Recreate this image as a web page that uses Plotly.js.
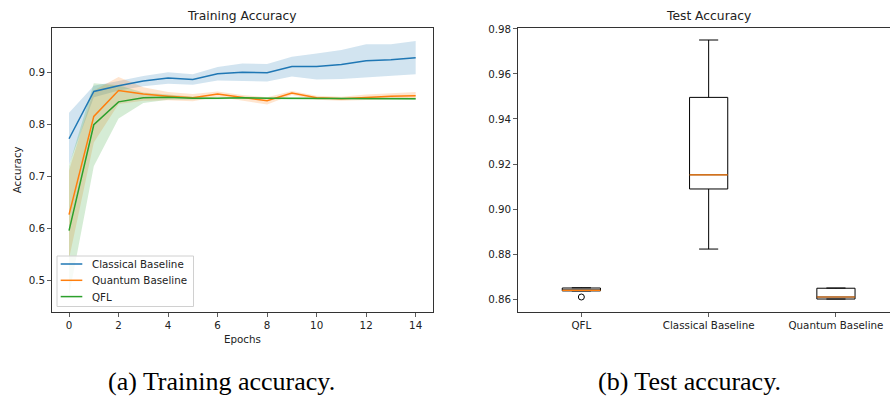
<!DOCTYPE html>
<html>
<head>
<meta charset="utf-8">
<script src="https://cdn.plot.ly/plotly-3.0.1.min.js"></script>
<style>html,body{margin:0;padding:0;background:#fff;}#chart{width:890px;height:399px;}</style>
</head>
<body>
<div id="chart"></div>
<script>
// ---- Training accuracy (mean and std over runs) ----
const epochs = [0,1,2,3,4,5,6,7,8,9,10,11,12,13,14];
const classicalMean = [0.772,0.863,0.874,0.883,0.889,0.886,0.897,0.900,0.899,0.911,0.911,0.915,0.922,0.924,0.928];
const classicalStd  = [0.050,0.011,0.009,0.010,0.011,0.010,0.013,0.017,0.017,0.019,0.025,0.028,0.032,0.030,0.032];
const quantumMean   = [0.626,0.815,0.865,0.858,0.854,0.851,0.858,0.851,0.845,0.860,0.851,0.849,0.852,0.854,0.855];
const quantumStd    = [0.085,0.050,0.026,0.013,0.008,0.007,0.005,0.005,0.007,0.004,0.004,0.004,0.005,0.006,0.007];
const qflMean       = [0.595,0.799,0.843,0.851,0.852,0.850,0.850,0.851,0.850,0.850,0.850,0.850,0.850,0.850,0.849];
const qflStd        = [0.125,0.080,0.032,0.010,0.005,0.003,0.002,0.002,0.002,0.002,0.002,0.002,0.002,0.002,0.002];
const seriesNames   = ["Classical Baseline","Quantum Baseline","QFL"];

// ---- Test accuracy (per run) ----
const testCategories = ["QFL","Classical Baseline","Quantum Baseline"];
const testQFL       = [0.8609,0.8636,0.8638,0.8649,0.8650];
const testClassical = [0.8822,0.9089,0.9152,0.9496,0.9751];
const testQuantum   = [0.8600,0.8600,0.8609,0.8648,0.8649];

const xTicks = [0,2,4,6,8,10,12,14];
const yTicksTrain = [0.5,0.6,0.7,0.8,0.9];
const yTicksTest = [0.86,0.88,0.90,0.92,0.94,0.96,0.98];

const colors = ["#1f77b4","#ff7f0e","#2ca02c"];
const fills = ["rgba(31,119,180,0.2)","rgba(255,127,14,0.2)","rgba(44,160,44,0.2)"];
const FONT = "DejaVu Sans, sans-serif";
const TXT = "#222";
const AX = "#333";

const means = [classicalMean, quantumMean, qflMean];
const stds = [classicalStd, quantumStd, qflStd];

const traces = [];
// bands
means.forEach((m, i) => {
  const lo = m.map((v, k) => v - stds[i][k]);
  const hi = m.map((v, k) => v + stds[i][k]);
  traces.push({x: epochs, y: lo, type: "scatter", mode: "lines", line: {width: 0, color: fills[i]},
    showlegend: false, hoverinfo: "skip", xaxis: "x", yaxis: "y"});
  traces.push({x: epochs, y: hi, type: "scatter", mode: "lines", line: {width: 0, color: fills[i]},
    fill: "tonexty", fillcolor: fills[i], showlegend: false, hoverinfo: "skip", xaxis: "x", yaxis: "y"});
});
// mean lines
means.forEach((m, i) => {
  traces.push({x: epochs, y: m, type: "scatter", mode: "lines", name: seriesNames[i],
    line: {color: colors[i], width: 1.5}, showlegend: false, xaxis: "x", yaxis: "y"});
});

// boxes
const testData = [testQFL, testClassical, testQuantum];
const positions = [1, 2, 3];
const boxWidth = 0.3;
testData.forEach((d, i) => {
  traces.push({type: "box", y: d, x0: positions[i], name: testCategories[i], width: boxWidth,
    quartilemethod: "inclusive", boxpoints: "outliers", pointpos: 0, jitter: 0,
    line: {color: "#000", width: 1}, fillcolor: "rgba(255,255,255,0)", whiskerwidth: 0.5,
    marker: {symbol: "circle-open", size: 6, color: "#000", line: {width: 1}},
    showlegend: false, xaxis: "x2", yaxis: "y2"});
});
function median(a) {
  const s = [...a].sort((p, q) => p - q);
  const n = s.length;
  return n % 2 ? s[(n - 1) / 2] : (s[n / 2 - 1] + s[n / 2]) / 2;
}
testData.forEach((d, i) => {
  const med = median(d);
  traces.push({type: "scatter", mode: "lines", x: [positions[i] - boxWidth / 2, positions[i] + boxWidth / 2],
    y: [med, med], line: {color: "#ff7f0e", width: 1.2}, showlegend: false, hoverinfo: "skip",
    xaxis: "x2", yaxis: "y2"});
});

const W = 890, H = 399;
const px = v => v / W, py = v => 1 - v / H;

// hand-drawn legend (matplotlib-style) in the lower-left of the training plot
const shapes = [
  {type: "rect", xref: "paper", yref: "paper", x0: px(57), x1: px(193.5), y0: py(306.5), y1: py(256),
    line: {color: "#d0d0d0", width: 1}, fillcolor: "rgba(255,255,255,0.8)", layer: "above"}
];
const legendRows = [264, 280.3, 296.6];
const legendAnn = [];
seriesNames.forEach((nm, i) => {
  shapes.push({type: "line", xref: "paper", yref: "paper", x0: px(60.7), x1: px(82.3),
    y0: py(legendRows[i]), y1: py(legendRows[i]), line: {color: colors[i], width: 1.5}, layer: "above"});
  legendAnn.push({text: nm, xref: "paper", yref: "paper", x: px(90.3), y: py(legendRows[i]),
    xanchor: "left", yanchor: "middle", showarrow: false, font: {family: FONT, size: 10.3, color: TXT}});
});

const tickFont = {family: FONT, size: 10.3, color: TXT};
const layout = {
  width: W, height: H,
  margin: {l: 0, r: 0, t: 0, b: 0},
  paper_bgcolor: "#fff", plot_bgcolor: "#fff",
  font: {family: FONT, color: TXT},
  showlegend: false,
  xaxis: {domain: [px(51.7), px(433)], range: [-0.7, 14.7], tickvals: xTicks,
    showgrid: false, zeroline: false, showline: true, linecolor: AX, linewidth: 1, mirror: true,
    ticks: "outside", ticklen: 3.5, tickwidth: 0.8, tickcolor: AX, tickfont: tickFont, anchor: "y"},
  yaxis: {domain: [py(312), py(28.3)], range: [0.4385, 0.9846], tickvals: yTicksTrain, tickformat: ".1f",
    showgrid: false, zeroline: false, showline: true, linecolor: AX, linewidth: 1, mirror: true,
    ticks: "outside", ticklen: 3.5, tickwidth: 0.8, tickcolor: AX, tickfont: tickFont, anchor: "x"},
  xaxis2: {domain: [px(517.7), 1], range: [0.5, 0.5 + (890 - 517.7) / 127.3], tickvals: positions, ticktext: testCategories,
    showgrid: false, zeroline: false, showline: true, linecolor: AX, linewidth: 1, mirror: true,
    ticks: "outside", ticklen: 3.5, tickwidth: 0.8, tickcolor: AX, tickfont: tickFont, anchor: "y2"},
  yaxis2: {domain: [py(312.3), py(28.3)], range: [0.8541, 0.9803], tickvals: yTicksTest, tickformat: ".2f",
    showgrid: false, zeroline: false, showline: true, linecolor: AX, linewidth: 1,
    ticks: "outside", ticklen: 3.5, tickwidth: 0.8, tickcolor: AX, tickfont: tickFont, anchor: "x2"},
  shapes: shapes,
  annotations: [
    {text: "Training Accuracy", xref: "paper", yref: "paper", x: px(242.3), y: py(15.7), xanchor: "center", yanchor: "middle",
      showarrow: false, font: {family: FONT, size: 12.3, color: TXT}},
    {text: "Test Accuracy", xref: "x2", yref: "paper", x: 2, y: py(15.7), xanchor: "center", yanchor: "middle",
      showarrow: false, font: {family: FONT, size: 12.3, color: TXT}},
    {text: "Accuracy", xref: "paper", yref: "paper", x: px(17.3), y: py(170), xanchor: "center", yanchor: "middle",
      textangle: -90, showarrow: false, font: {family: FONT, size: 10.3, color: TXT}},
    {text: "Epochs", xref: "paper", yref: "paper", x: px(242.3), y: py(339), xanchor: "center", yanchor: "middle",
      showarrow: false, font: {family: FONT, size: 10.3, color: TXT}},
    {text: "(a) Training accuracy.", xref: "paper", yref: "paper", x: px(221), y: py(381), xanchor: "center", yanchor: "middle",
      showarrow: false, font: {family: "Liberation Serif, serif", size: 26, color: "#000"}},
    {text: "(b) Test accuracy.", xref: "paper", yref: "paper", x: px(689), y: py(381), xanchor: "center", yanchor: "middle",
      showarrow: false, font: {family: "Liberation Serif, serif", size: 26, color: "#000"}}
  ].concat(legendAnn)
};

Plotly.newPlot("chart", traces, layout, {staticPlot: true, displayModeBar: false});
</script>
</body>
</html>
